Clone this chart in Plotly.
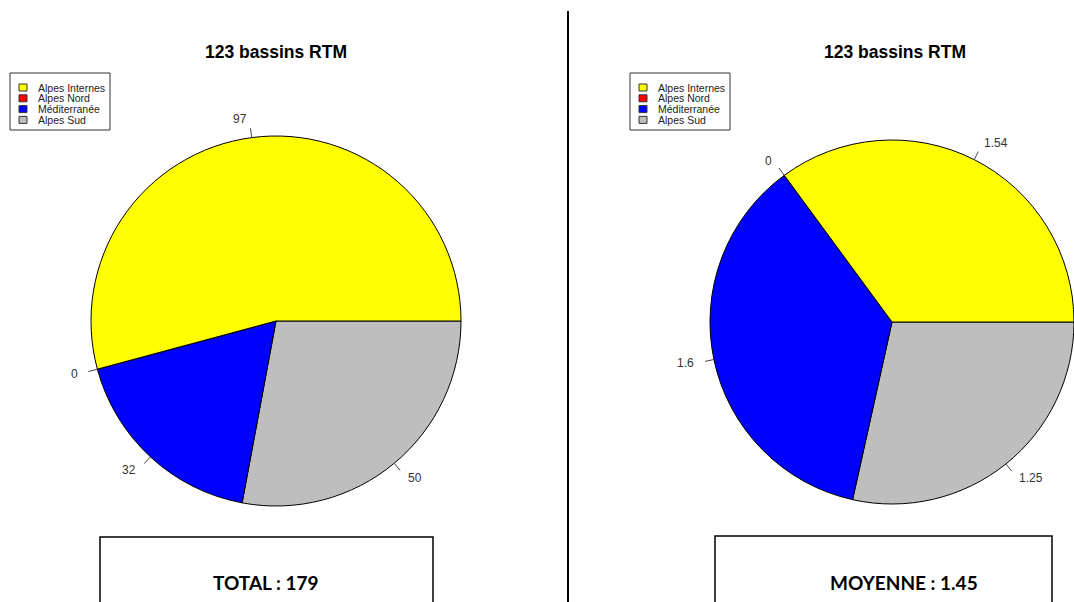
import math
import plotly.graph_objects as go

# ---- data ----
categories = ["Alpes Internes", "Alpes Nord", "Méditerranée", "Alpes Sud"]
colors = ["#FFFF00", "#FF0000", "#0000FF", "#BEBEBE"]
total_values = [97, 0, 32, 50]
mean_values = [1.54, 0, 1.6, 1.25]
total_label_text = ["97", "0", "32", "50"]
mean_label_text = ["1.54", "0", "1.6", "1.25"]
title_text = "123 bassins RTM"
box_texts = ["TOTAL : 179", "MOYENNE : 1.45"]

W, H = 1074, 602


def px(x):
    return x / W


def py(y):
    return 1 - y / H


fig = go.Figure()

panels = [
    dict(values=total_values, labels=total_label_text, cx=276, cy=321, r=185,
         title_x=276, legend_x=10, box=(100, 537, 433), box_text=box_texts[0], text_x=266),
    dict(values=mean_values, labels=mean_label_text, cx=892, cy=322, r=182,
         title_x=895, legend_x=630, box=(715, 536, 1052), box_text=box_texts[1], text_x=904),
]

shapes = []
annotations = []

for p in panels:
    cx, cy, r = p["cx"], p["cy"], p["r"]
    # R-style pie: first slice starts at 3 o'clock, going counter-clockwise.
    # Equivalent in plotly: reversed order, clockwise from 3 o'clock.
    fig.add_trace(go.Pie(
        labels=categories[::-1], values=p["values"][::-1], sort=False,
        direction="clockwise", rotation=90,
        marker=dict(colors=colors[::-1], line=dict(color="black", width=1)),
        textinfo="none", hoverinfo="label+value", showlegend=False,
        domain=dict(x=[px(cx - r), px(cx + r)], y=[py(cy + r), py(cy - r)]),
    ))
    tot = sum(p["values"])
    cum = 0.0
    for v, lab in zip(p["values"], p["labels"]):
        mid = (cum + v / 2) / tot * 2 * math.pi
        cum += v
        c, s = math.cos(mid), math.sin(mid)
        shapes.append(dict(type="line", xref="paper", yref="paper",
                           x0=px(cx + r * c), y0=py(cy - r * s),
                           x1=px(cx + 1.05 * r * c), y1=py(cy - 1.05 * r * s),
                           line=dict(color="#444444", width=1)))
        annotations.append(dict(x=px(cx + 1.1 * r * c), y=py(cy - 1.1 * r * s),
                                xref="paper", yref="paper", text=lab, showarrow=False,
                                xanchor="left" if c >= 0 else "right", yanchor="middle",
                                font=dict(family="Liberation Sans, Arial", size=12, color="#333333")))
    # title
    annotations.append(dict(x=px(p["title_x"]), y=py(52), xref="paper", yref="paper",
                            text="<b>" + title_text + "</b>", showarrow=False,
                            xanchor="center", yanchor="middle",
                            font=dict(family="Liberation Sans, Arial", size=17.5, color="black")))
    # legend box
    lx = p["legend_x"]
    shapes.append(dict(type="rect", xref="paper", yref="paper",
                       x0=px(lx), x1=px(lx + 100), y0=py(130), y1=py(73),
                       line=dict(color="#333333", width=1), fillcolor="white"))
    for i, (cat, col) in enumerate(zip(categories, colors)):
        yy = 87.5 + i * 10.8
        shapes.append(dict(type="rect", xref="paper", yref="paper",
                           x0=px(lx + 9), x1=px(lx + 17), y0=py(yy + 3.5), y1=py(yy - 3.5),
                           line=dict(color="#333333", width=1), fillcolor=col))
        annotations.append(dict(x=px(lx + 26), y=py(yy), xref="paper", yref="paper",
                                text=cat, showarrow=False, xanchor="left", yanchor="middle",
                                font=dict(family="Liberation Sans, Arial", size=10.5, color="#222222")))
    # bottom box
    bx0, by0, bx1 = p["box"]
    shapes.append(dict(type="rect", xref="paper", yref="paper",
                       x0=px(bx0), x1=px(bx1), y0=py(610), y1=py(by0),
                       line=dict(color="black", width=1.5), fillcolor="rgba(0,0,0,0)"))
    annotations.append(dict(x=px(p["text_x"]), y=py(582), xref="paper", yref="paper",
                            text="<b>" + p["box_text"] + "</b>", showarrow=False,
                            xanchor="center", yanchor="middle",
                            font=dict(family="Lato, Liberation Sans", size=19, color="black")))

# separator line
shapes.append(dict(type="line", xref="paper", yref="paper",
                   x0=px(568), x1=px(568), y0=py(11), y1=py(605),
                   line=dict(color="black", width=2)))

fig.update_layout(
    width=W, height=H, margin=dict(l=0, r=0, t=0, b=0),
    paper_bgcolor="white", plot_bgcolor="white",
    shapes=shapes, annotations=annotations, showlegend=False,
)

fig.write_html("out.html", config={"displayModeBar": False},
               post_script="document.body.style.margin='0';")
